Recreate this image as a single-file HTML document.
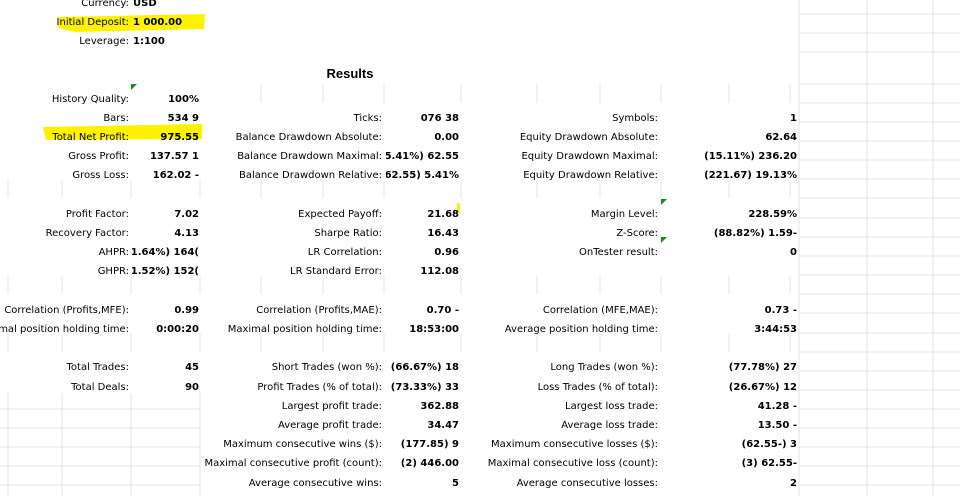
<!DOCTYPE html>
<html><head><meta charset="utf-8"><style>
body{margin:0;width:960px;height:496px;background:#fff;overflow:hidden;position:relative;font-family:"DejaVu Sans","Liberation Sans",sans-serif;font-size:10px;color:#000}
.l,.v{position:absolute;white-space:nowrap;height:14px;line-height:14px}
.l{text-align:right}
.v{text-align:right;font-weight:bold}
svg{position:absolute;left:0;top:0}
</style></head><body>
<svg width="960" height="496">
<g id="g" stroke="#e3e3e3" stroke-width="1"></g>
<path d="M58 17 L205 14 L204 29 L75 32 L58 28 Z" fill="#fff200"/>
<path d="M43 127 L202 124 L202 139 L46 140 Z" fill="#fff200"/>
<rect x="457" y="203" width="3" height="10" fill="#fff200"/>
<path d="M131 84 l6 0 l-6 6z M661 199 l6 0 l-6 6z M661 237 l6 0 l-6 6z" fill="#1a8a1a"/>
</svg>
<div id="c"></div>
<div class="l" style="left:240px;top:67px;width:220px;text-align:center;font-size:13px;font-weight:bold;font-family:'Liberation Sans',sans-serif">Results</div>
<script>
const g=document.getElementById('g');
function ln(x1,y1,x2,y2){const e=document.createElementNS('http://www.w3.org/2000/svg','line');e.setAttribute('x1',x1);e.setAttribute('y1',y1);e.setAttribute('x2',x2);e.setAttribute('y2',y2);g.appendChild(e);}
[14,33,52,84,103,122,141,160,179,198,218,237,256,275,294,313,333,352,371,390,409,428,447,466,485].forEach(y=>ln(799,y,960,y));
[799,867,933].forEach(x=>ln(x,0,x,496));
[409,428,447,466,485].forEach(y=>ln(0,y,200,y));
[8,62,131,200].forEach(x=>ln(x,393,x,496));
const stubs=[8,62,131,200,261,323,384,461,537,600,661,729,790];
[[84,103],[180,198],[276,294],[333,352]].forEach(([a,b])=>stubs.forEach(x=>{if(a==84&&x<261)return;ln(x,a,x,b);}));
const rows=[
[0,0,"Currency:","USD",null],[1,0,"Initial Deposit:","1 000.00",null],[2,0,"Leverage:","1:100",null],
[5,0,"History Quality:","100%",1],[6,0,"Bars:","9 534",1],[7,0,"Total Net Profit:","975.55",1],[8,0,"Gross Profit:","1 137.57",1],[9,0,"Gross Loss:","- 162.02",1],
[11,0,"Profit Factor:","7.02",1],[12,0,"Recovery Factor:","4.13",1],[13,0,"AHPR:",")164 (1.64%)",1],[14,0,"GHPR:",")152 (1.52%)",1],
[16,0,"Correlation (Profits,MFE):","0.99",1],[17,0,"Minimal position holding time:","0:00:20",1],
[19,0,"Total Trades:","45",1],[20,0,"Total Deals:","90",1],
[6,1,"Ticks:","38 076"],[7,1,"Balance Drawdown Absolute:","0.00"],[8,1,"Balance Drawdown Maximal:","62.55 (5.41%)"],[9,1,"Balance Drawdown Relative:","5.41% (62.55)"],
[11,1,"Expected Payoff:","21.68"],[12,1,"Sharpe Ratio:","16.43"],[13,1,"LR Correlation:","0.96"],[14,1,"LR Standard Error:","112.08"],
[16,1,"Correlation (Profits,MAE):","- 0.70"],[17,1,"Maximal position holding time:","18:53:00"],
[19,1,"Short Trades (won %):","18 (66.67%)"],[20,1,"Profit Trades (% of total):","33 (73.33%)"],[21,1,"Largest profit trade:","362.88"],[22,1,"Average profit trade:","34.47"],
[23,1,"Maximum consecutive wins ($):","9 (177.85)"],[24,1,"Maximal consecutive profit (count):","446.00 (2)"],[25,1,"Average consecutive wins:","5"],
[6,2,"Symbols:","1"],[7,2,"Equity Drawdown Absolute:","62.64"],[8,2,"Equity Drawdown Maximal:","236.20 (15.11%)"],[9,2,"Equity Drawdown Relative:","19.13% (221.67)"],
[11,2,"Margin Level:","228.59%"],[12,2,"Z-Score:","-1.59 (88.82%)"],[13,2,"OnTester result:","0"],
[16,2,"Correlation (MFE,MAE):","- 0.73"],[17,2,"Average position holding time:","3:44:53"],
[19,2,"Long Trades (won %):","27 (77.78%)"],[20,2,"Loss Trades (% of total):","12 (26.67%)"],[21,2,"Largest loss trade:","- 41.28"],[22,2,"Average loss trade:","- 13.50"],
[23,2,"Maximum consecutive losses ($):","3 (-62.55)"],[24,2,"Maximal consecutive loss (count):","-62.55 (3)"],[25,2,"Average consecutive losses:","2"]];
const colL=[129,382,658],colV=[199,459,797],colVL=[132,386,662];
const c=document.getElementById('c');
rows.forEach(([r,k,lab,val,adj])=>{
 let y=r*19.2-3;if(r>=5)y=r*19.2-3.5;
 const le=k==0&&r<3?129:colL[k];
 const a=document.createElement('div');a.className='l';
 
 
 a.textContent=lab;a.style.top=y+'px';a.style.right=(960-le)+'px';c.appendChild(a);
 const b=document.createElement('div');b.className='v';
 
 
 b.textContent=val;b.style.top=y+'px';
 if(k==0&&r<3){b.style.left='133px';b.style.textAlign='left';}
 else{b.style.right=(960-colV[k])+'px';b.style.maxWidth=(colV[k]-colVL[k])+'px';b.style.overflow='hidden';b.style.direction='rtl';}
 c.appendChild(b);
});
</script>
</body></html>
